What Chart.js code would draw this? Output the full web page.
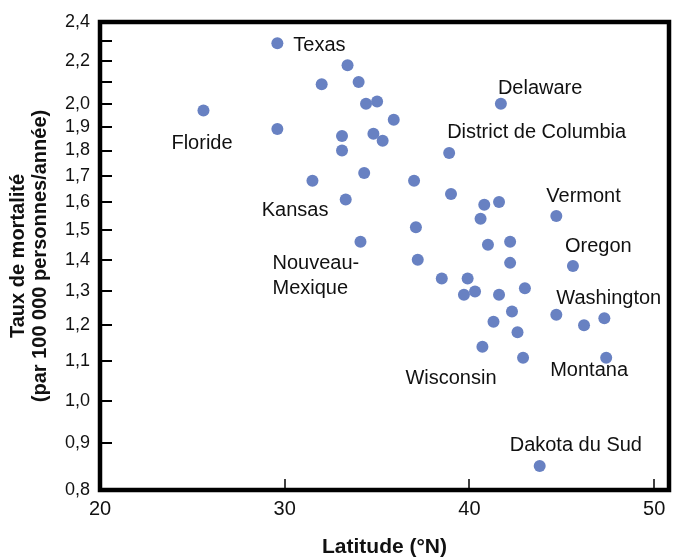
<!DOCTYPE html>
<html lang="fr">
<head>
<meta charset="utf-8">
<title>Taux de mortalité et latitude</title>
<script src="https://cdn.jsdelivr.net/npm/chart.js@4/dist/chart.umd.min.js"></script>
<style>
  html, body { margin: 0; padding: 0; background: #fff; }
  #chart { display: block; }
</style>
</head>
<body>
<canvas id="chart" width="686" height="558"></canvas>
<script>
// latitude (°N) and mortality rate (per 100 000 person-years) for each state
const latitudes = [
  29.6, 33.4, 32.0, 34.0, 25.6, 34.4, 35.0, 35.9, 29.6, 33.1,
  34.8, 35.3, 33.1, 34.3, 31.5, 37.0, 33.3, 38.9, 39.0, 41.7,
  40.8, 41.6, 40.6, 44.7, 37.1, 41.0, 42.2, 34.1, 37.2, 42.2,
  45.6, 38.5, 39.9, 40.3, 39.7, 41.6, 43.0, 42.3, 44.7, 41.3,
  46.2, 47.3, 42.6, 40.7, 42.9, 47.4, 43.8
];
const rates = [
  2.29, 2.18, 2.09, 2.10, 1.97, 2.00, 2.01, 1.93, 1.89, 1.86,
  1.87, 1.84, 1.80, 1.71, 1.68, 1.68, 1.61, 1.79, 1.63, 2.00,
  1.59, 1.60, 1.54, 1.55, 1.51, 1.45, 1.46, 1.46, 1.40, 1.39,
  1.38, 1.34, 1.34, 1.30, 1.29, 1.29, 1.31, 1.24, 1.23, 1.21,
  1.20, 1.22, 1.18, 1.14, 1.11, 1.11, 0.85
];
const stateNames = [
  'Texas', '', '', '', 'Floride', '', '', '', '', '',
  '', '', '', '', '', '', 'Kansas', 'District de Columbia', '', 'Delaware',
  '', '', '', 'Vermont', '', '', '', 'Nouveau-\nMexique', '', '',
  'Oregon', '', '', '', '', '', '', '', '', '',
  '', 'Washington', '', 'Wisconsin', '', 'Montana', 'Dakota du Sud'
];

const latTicks = [20, 30, 40, 50];
const rateTicks = [0.8, 0.9, 1.0, 1.1, 1.2, 1.3, 1.4, 1.5, 1.6, 1.7, 1.8, 1.9, 2.0, 2.1, 2.2, 2.3, 2.4];
const rateLabels = [0.8, 0.9, 1.0, 1.1, 1.2, 1.3, 1.4, 1.5, 1.6, 1.7, 1.8, 1.9, 2.0, 2.2, 2.4];

// where each state name sits relative to its dot: [dx to text start, dy to first line middle]
const labelOffsets = {
  'Texas': [16, 2],
  'Floride': [-32, 33],
  'Kansas': [-84, 11],
  'District de Columbia': [-2, -20],
  'Delaware': [-3, -15],
  'Vermont': [-10, -19],
  'Nouveau-\nMexique': [-88, 22],
  'Oregon': [-8, -19],
  'Washington': [-48, -20],
  'Wisconsin': [-77, 32],
  'Montana': [-56, 13],
  'Dakota du Sud': [-30, -21]
};

const FONT = '"Liberation Sans", Arial, Helvetica, sans-serif';
const DOT_COLOR = '#6881c2';
const RATE_SHIFT = 0.2;

// log(v + shift) axis for the mortality rate
class ShiftedLogScale extends Chart.Scale {
  determineDataLimits() {
    this.min = this.options.min;
    this.max = this.options.max;
  }
  buildTicks() {
    return rateTicks.map(value => ({ value }));
  }
  getLabelForValue(value) {
    return String(value);
  }
  configure() {
    super.configure();
    this._startValue = Math.log(this.min + RATE_SHIFT);
    this._valueRange = Math.log(this.max + RATE_SHIFT) - this._startValue;
  }
  getPixelForValue(value) {
    return this.getPixelForDecimal((Math.log(value + RATE_SHIFT) - this._startValue) / this._valueRange);
  }
  getValueForPixel(pixel) {
    return Math.exp(this._startValue + this.getDecimalForPixel(pixel) * this._valueRange) - RATE_SHIFT;
  }
}
ShiftedLogScale.id = 'shiftedLog';
ShiftedLogScale.defaults = {};
Chart.register(ShiftedLogScale);

// thick black box round the plot, with short ticks pointing inwards
const framePlugin = {
  id: 'frame',
  afterDraw(chart) {
    const { ctx, chartArea: a, scales } = chart;
    ctx.save();
    ctx.strokeStyle = '#000';
    ctx.lineCap = 'butt';

    ctx.lineWidth = 2;
    rateTicks.forEach(v => {
      const y = Math.round(scales.y.getPixelForValue(v));
      if (y <= a.top + 2 || y >= a.bottom - 2) return;
      ctx.beginPath();
      ctx.moveTo(a.left, y);
      ctx.lineTo(a.left + 12, y);
      ctx.stroke();
    });

    ctx.lineWidth = 1.5;
    latTicks.forEach(v => {
      const x = Math.round(scales.x.getPixelForValue(v));
      if (x <= a.left + 2 || x >= a.right - 2) return;
      ctx.beginPath();
      ctx.moveTo(x, a.bottom);
      ctx.lineTo(x, a.bottom - 11);
      ctx.stroke();
    });

    ctx.lineWidth = 4.5;
    ctx.strokeRect(a.left, a.top, a.right - a.left, a.bottom - a.top);
    ctx.restore();
  }
};

// state names next to their dots
const stateLabelPlugin = {
  id: 'stateLabels',
  afterDatasetsDraw(chart) {
    const { ctx } = chart;
    const points = chart.getDatasetMeta(0).data;
    ctx.save();
    ctx.fillStyle = '#111';
    ctx.font = '20px ' + FONT;
    ctx.textAlign = 'left';
    ctx.textBaseline = 'middle';
    stateNames.forEach((name, i) => {
      if (!name) return;
      const [dx, dy] = labelOffsets[name];
      const p = points[i];
      name.split('\n').forEach((line, k) => {
        ctx.fillText(line, p.x + dx, p.y + dy + k * 25);
      });
    });
    ctx.restore();
  }
};

const ctx = document.getElementById('chart');
new Chart(ctx, {
  type: 'scatter',
  data: {
    datasets: [{
      data: latitudes.map((lat, i) => ({ x: lat, y: rates[i] })),
      backgroundColor: DOT_COLOR,
      borderWidth: 0,
      pointRadius: 6,
      pointHoverRadius: 6
    }]
  },
  options: {
    responsive: false,
    devicePixelRatio: 1,
    animation: false,
    layout: { padding: { top: 22, right: 17, left: 0, bottom: 0 } },
    plugins: {
      legend: { display: false },
      tooltip: { enabled: false }
    },
    scales: {
      x: {
        type: 'linear',
        min: 20,
        max: 50.8,
        grid: { display: false, drawTicks: false },
        border: { display: false },
        afterBuildTicks: axis => { axis.ticks = latTicks.map(value => ({ value })); },
        afterFit: axis => { axis.height = 68; },
        ticks: {
          color: '#111',
          padding: 7,
          font: { family: FONT, size: 20 },
          callback: v => String(v)
        },
        title: {
          display: true,
          text: 'Latitude (°N)',
          color: '#111',
          padding: { top: 0, bottom: 0 },
          font: { family: FONT, size: 21, weight: 'bold', lineHeight: 1 }
        }
      },
      y: {
        type: 'shiftedLog',
        min: 0.8,
        max: 2.4,
        grid: { display: false, drawTicks: false },
        border: { display: false },
        afterFit: axis => { axis.width = 100; },
        ticks: {
          color: '#111',
          padding: 10,
          autoSkip: false,
          font: { family: FONT, size: 18 },
          callback: v => rateLabels.includes(v) ? v.toFixed(1).replace('.', ',') : ''
        },
        title: {
          display: true,
          text: ['Taux de mortalité', '(par 100 000 personnes/année)'],
          color: '#111',
          padding: { top: 7.5, bottom: 0 },
          font: { family: FONT, size: 20, weight: 'bold', lineHeight: 1.1 }
        }
      }
    }
  },
  plugins: [framePlugin, stateLabelPlugin]
});
</script>
</body>
</html>
